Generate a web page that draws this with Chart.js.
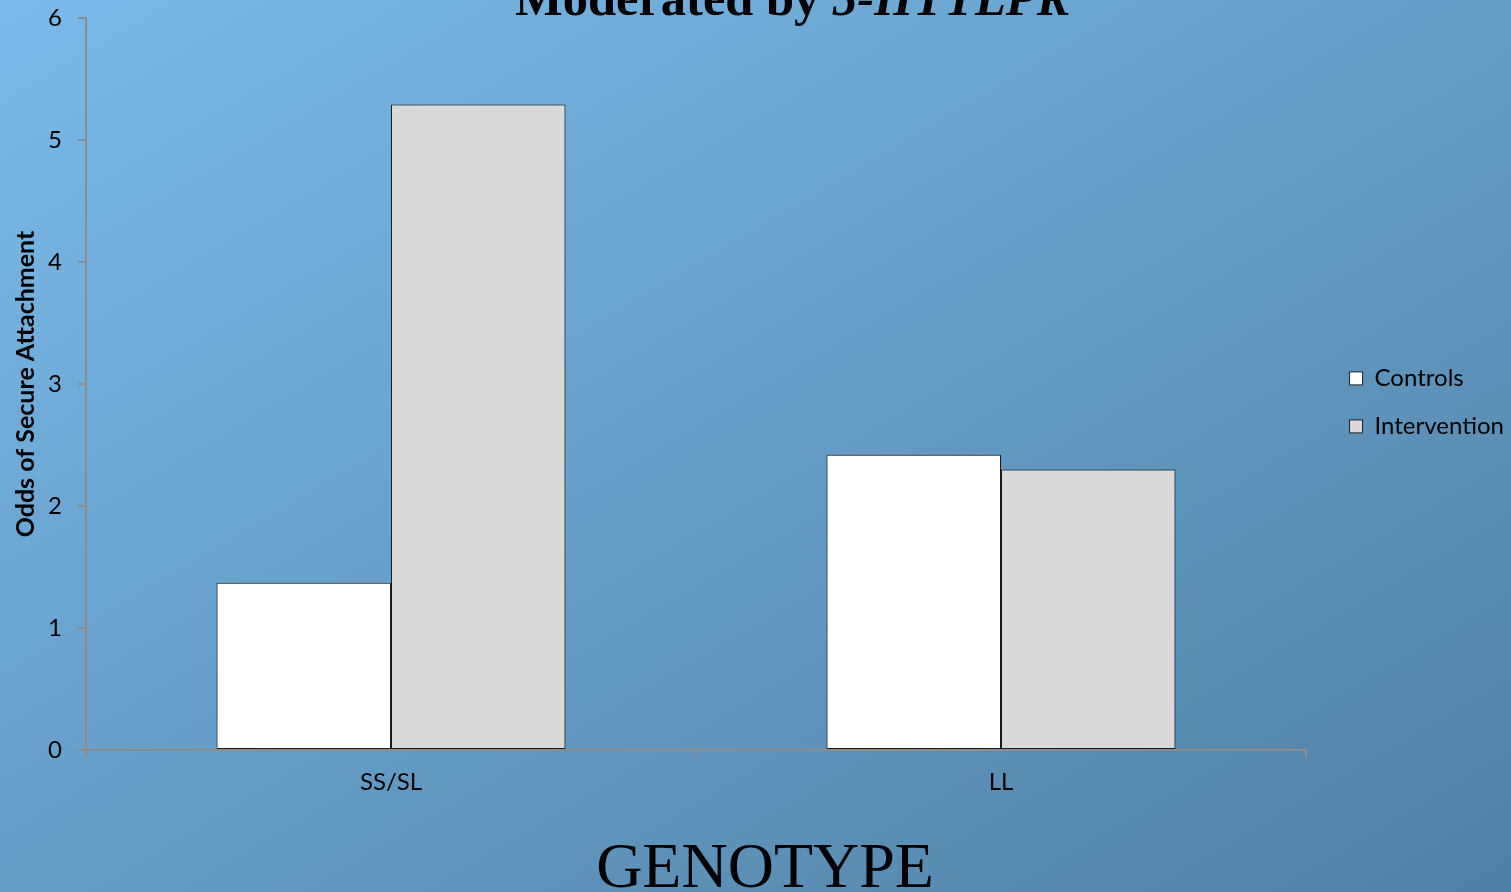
<!DOCTYPE html>
<html>
<head>
<meta charset="utf-8">
<script src="https://cdn.jsdelivr.net/npm/chart.js@4/dist/chart.umd.min.js"></script>
<style>
  html, body { margin: 0; padding: 0; width: 1511px; height: 892px; overflow: hidden; }
  body { background: linear-gradient(to bottom right, #7abaea, #5080a4); position: relative; }
  #wrap { position: absolute; left: 0; top: 0; width: 1511px; height: 920px; }
  #title { position: absolute; left: 515px; top: -27px; font: bold 50.5px "Liberation Serif", serif; line-height: 1; white-space: nowrap; color: #000; }
</style>
</head>
<body>
<div id="title">Moderated by <i>5-HTTLPR</i></div>
<div id="wrap"><canvas id="myChart" width="1511" height="920"></canvas></div>
<script>
const genotypes = ['SS/SL', 'LL'];
const controls = [1.37, 2.42];
const intervention = [5.29, 2.30];
const yTicks = [0, 1, 2, 3, 4, 5, 6];

const axisGray = '#8c8c8c';

// soft shadow behind the bars, like the original slide
const barShadow = {
  id: 'barShadow',
  beforeDatasetsDraw(chart) {
    const ctx = chart.ctx;
    ctx.save();
    ctx.shadowColor = 'rgba(0,0,0,0.35)';
    ctx.shadowBlur = 5;
    ctx.shadowOffsetX = 1;
    ctx.shadowOffsetY = 1;
  },
  afterDatasetsDraw(chart) {
    chart.ctx.restore();
  }
};

const data = {
  labels: genotypes,
  datasets: [
    {
      label: 'Controls',
      data: controls,
      backgroundColor: '#ffffff',
      borderColor: '#1e1e1e',
      borderWidth: 1,
      borderSkipped: false,
    },
    {
      label: 'Intervention',
      data: intervention,
      backgroundColor: '#d9d9d9',
      borderColor: '#1e1e1e',
      borderWidth: 1,
      borderSkipped: false,
    },
  ]
};

const config = {
  type: 'bar',
  data: data,
  plugins: [barShadow],
  options: {
    responsive: false,
    animation: false,
    layout: { padding: { top: 18, left: 16, right: -3, bottom: 0 } },
    datasets: { bar: { categoryPercentage: 0.572, barPercentage: 1 } },
    plugins: {
      tooltip: { enabled: false },
      title: {
        display: true,
        position: 'bottom',
        text: 'GENOTYPE',
        color: '#000',
        font: { family: 'Liberation Serif', size: 64, weight: 'normal', lineHeight: 1 },
        padding: { top: 0, bottom: 18 },
      },
      legend: {
        position: 'right',
        align: 'start',
        title: { display: true, text: '', padding: { top: 310, bottom: 0 } },
        labels: {
          boxWidth: 13,
          boxHeight: 13,
          padding: 24,
          color: '#000',
          font: { family: 'Lato', size: 24 },
        }
      }
    },
    scales: {
      x: {
        grid: { display: true, drawOnChartArea: false, drawTicks: true, tickLength: 8, color: axisGray, lineWidth: 2 },
        border: { display: true, color: axisGray, width: 2 },
        ticks: { color: '#000', padding: 10, font: { family: 'Lato', size: 24 } },
        afterFit(s) { s.height = 88; }
      },
      y: {
        min: 0,
        max: 6,
        afterBuildTicks(s) { s.ticks = yTicks.map(v => ({ value: v })); },
        grid: { display: true, drawOnChartArea: false, drawTicks: true, tickLength: 8, color: axisGray, lineWidth: 2 },
        border: { display: true, color: axisGray, width: 2 },
        ticks: { color: '#000', padding: 16, font: { family: 'Lato', size: 24 } },
        title: {
          display: true,
          text: 'Odds of Secure Attachment',
          color: '#000',
          font: { family: 'Lato', size: 25, weight: 'bold', lineHeight: 1 },
          padding: { top: -3, bottom: 0 },
        },
        afterFit(s) { s.width = 70; s.paddingTop = 0; s.paddingBottom = 0; }
      },
      gap: {
        position: 'right',
        display: true,
        grid: { display: false },
        border: { display: false },
        ticks: { display: false },
        afterFit(s) {
          const lw = s.chart.legend ? s.chart.legend.width : 0;
          s.width = Math.max(0, s.chart.width + 3 - lw - 1306);
          s.paddingTop = 0; s.paddingBottom = 0;
        }
      }
    }
  }
};

const myChart = new Chart(document.getElementById('myChart'), config);
</script>
</body>
</html>
